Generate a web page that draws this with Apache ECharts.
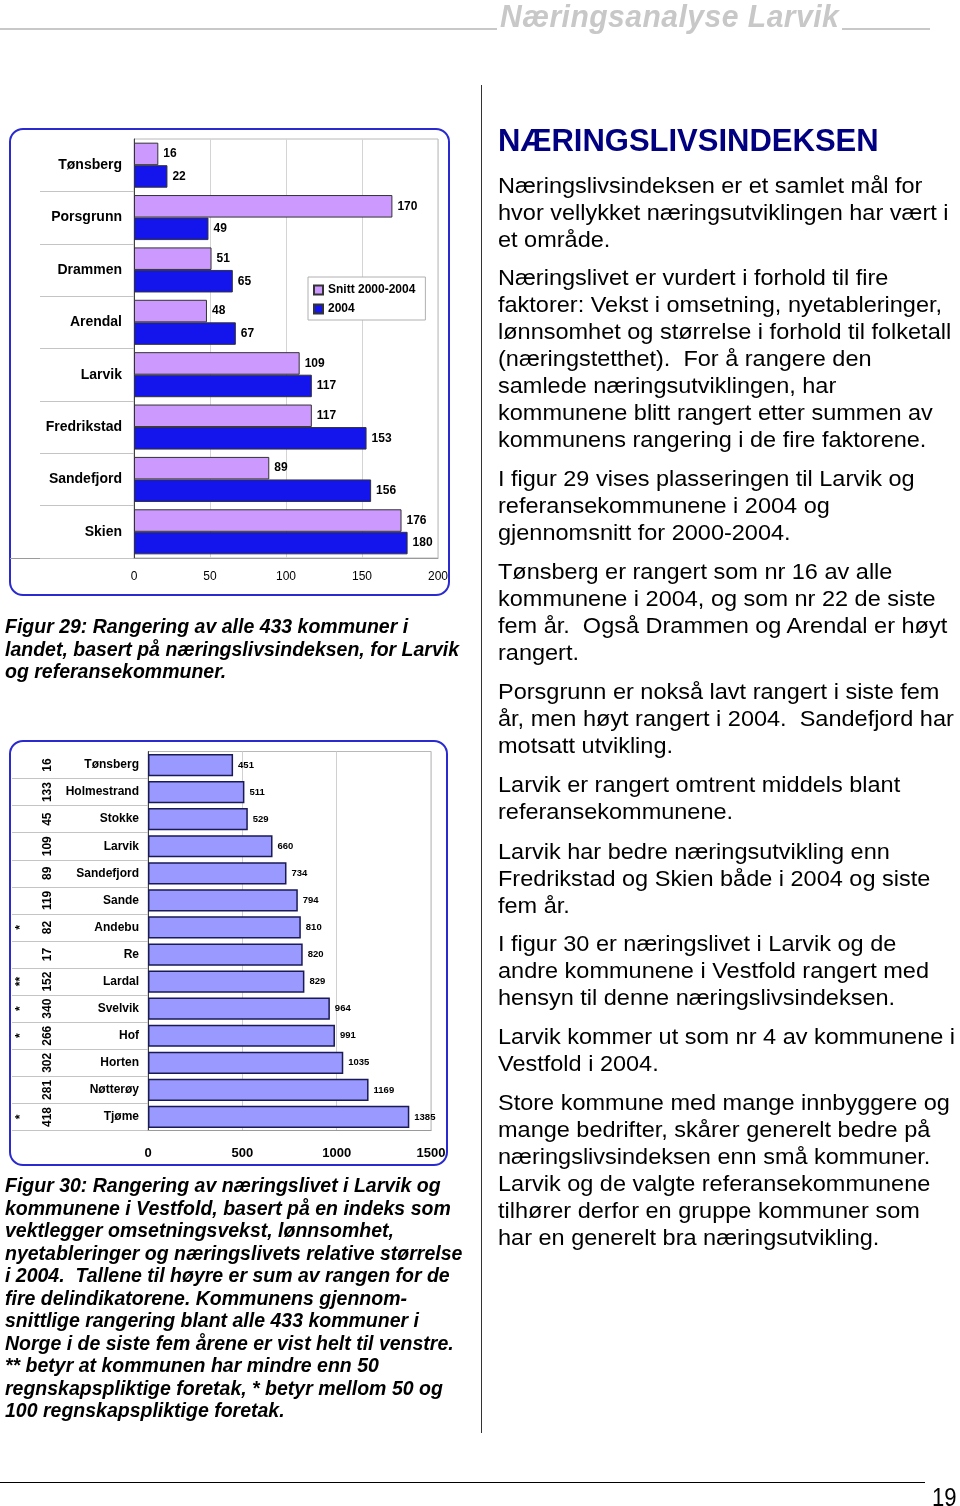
<!DOCTYPE html>
<html><head><meta charset="utf-8">
<script src="https://cdn.jsdelivr.net/npm/echarts@6/dist/echarts.min.js"></script>
<style>
html,body{margin:0;padding:0;background:#fff;}
body{width:960px;height:1506px;position:relative;overflow:hidden;font-family:"Liberation Sans",Arial,sans-serif;}
#chart{position:absolute;left:0;top:0;width:960px;height:1506px;z-index:1;}
.t{position:absolute;z-index:2;white-space:nowrap;}
.p{position:absolute;z-index:2;white-space:nowrap;left:498px;font-size:22px;line-height:27px;color:#000;transform:scaleX(1.068);transform-origin:0 0;}
.cap{position:absolute;z-index:2;white-space:nowrap;left:5px;font-size:19.5px;line-height:22.5px;font-weight:bold;font-style:italic;color:#000;}
</style></head><body>
<div id="chart"></div>

<div class="t" style="left:0;top:28px;width:497px;height:0;border-top:2px solid #c8c8c8;"></div>
<div class="t" style="left:500px;top:-2px;font-size:32px;line-height:36px;font-weight:bold;font-style:italic;color:#c8c8c8;transform:scaleX(0.94);transform-origin:0 0;letter-spacing:0.5px;">Næringsanalyse Larvik</div>
<div class="t" style="left:842px;top:28px;width:88px;height:0;border-top:2px solid #c8c8c8;"></div>

<div class="t" style="left:481px;top:85px;width:0;height:1348px;border-left:1px solid #333;"></div>

<div class="t" style="left:498px;top:122px;font-size:31px;line-height:38px;font-weight:bold;color:#000080;">NÆRINGSLIVSINDEKSEN</div>

<div class="p" style="top:172px;">Næringslivsindeksen er et samlet mål for<br>hvor vellykket næringsutviklingen har vært i<br>et område.</div>
<div class="p" style="top:264px;">Næringslivet er vurdert i forhold til fire<br>faktorer: Vekst i omsetning, nyetableringer,<br>lønnsomhet og størrelse i forhold til folketall<br>(næringstetthet).&nbsp; For å rangere den<br>samlede næringsutviklingen, har<br>kommunene blitt rangert etter summen av<br>kommunens rangering i de fire faktorene.</div>
<div class="p" style="top:465px;">I figur 29 vises plasseringen til Larvik og<br>referansekommunene i 2004 og<br>gjennomsnitt for 2000-2004.</div>
<div class="p" style="top:558px;">Tønsberg er rangert som nr 16 av alle<br>kommunene i 2004, og som nr 22 de siste<br>fem år.&nbsp; Også Drammen og Arendal er høyt<br>rangert.</div>
<div class="p" style="top:678px;">Porsgrunn er nokså lavt rangert i siste fem<br>år, men høyt rangert i 2004.&nbsp; Sandefjord har<br>motsatt utvikling.</div>
<div class="p" style="top:771px;">Larvik er rangert omtrent middels blant<br>referansekommunene.</div>
<div class="p" style="top:838px;">Larvik har bedre næringsutvikling enn<br>Fredrikstad og Skien både i 2004 og siste<br>fem år.</div>
<div class="p" style="top:930px;">I figur 30 er næringslivet i Larvik og de<br>andre kommunene i Vestfold rangert med<br>hensyn til denne næringslivsindeksen.</div>
<div class="p" style="top:1023px;">Larvik kommer ut som nr 4 av kommunene i<br>Vestfold i 2004.</div>
<div class="p" style="top:1089px;">Store kommune med mange innbyggere og<br>mange bedrifter, skårer generelt bedre på<br>næringslivsindeksen enn små kommuner.<br>Larvik og de valgte referansekommunene<br>tilhører derfor en gruppe kommuner som<br>har en generelt bra næringsutvikling.</div>

<div class="cap" style="top:615px;">Figur 29: Rangering av alle 433 kommuner i<br>landet, basert på næringslivsindeksen, for Larvik<br>og referansekommuner.</div>
<div class="cap" style="top:1174px;">Figur 30: Rangering av næringslivet i Larvik og<br>kommunene i Vestfold, basert på en indeks som<br>vektlegger omsetningsvekst, lønnsomhet,<br>nyetableringer og næringslivets relative størrelse<br>i 2004.&nbsp; Tallene til høyre er sum av rangen for de<br>fire delindikatorene. Kommunens gjennom-<br>snittlige rangering blant alle 433 kommuner i<br>Norge i de siste fem årene er vist helt til venstre.<br>** betyr at kommunen har mindre enn 50<br>regnskapspliktige foretak, * betyr mellom 50 og<br>100 regnskapspliktige foretak.</div>

<div class="t" style="left:0;top:1482px;width:925px;height:0;border-top:1px solid #000;"></div>
<div class="t" style="left:932px;top:1482px;font-size:26px;line-height:30px;color:#000;transform:scaleX(0.85);transform-origin:0 0;">19</div>

<script>
// ---------- Figure 29 data ----------
const fig29Categories = ['Tønsberg','Porsgrunn','Drammen','Arendal','Larvik','Fredrikstad','Sandefjord','Skien'];
const fig29Snitt = [16, 170, 51, 48, 109, 117, 89, 176];
const fig29Year2004 = [22, 49, 65, 67, 117, 153, 156, 180];
const fig29SeriesNames = ['Snitt 2000-2004', '2004'];
const fig29Ticks = [0, 50, 100, 150, 200];

// ---------- Figure 30 data ----------
const fig30Categories = ['Tønsberg','Holmestrand','Stokke','Larvik','Sandefjord','Sande','Andebu','Re','Lardal','Svelvik','Hof','Horten','Nøtterøy','Tjøme'];
const fig30Index = [451, 511, 529, 660, 734, 794, 810, 820, 829, 964, 991, 1035, 1169, 1385];
const fig30AvgRank = [16, 133, 45, 109, 89, 119, 82, 17, 152, 340, 266, 302, 281, 418];
const fig30Stars = ['', '', '', '', '', '', '*', '', '**', '*', '*', '', '', '*'];
const fig30Ticks = [0, 500, 1000, 1500];

const FONT = '"Liberation Sans", Arial, sans-serif';
const chart = echarts.init(document.getElementById('chart'), null, {renderer: 'canvas'});

const G1 = {left: 134, top: 139, width: 304, height: 419};
const G2 = {left: 148, top: 751.5, width: 283, height: 379};

const option = {
  animation: false,
  textStyle: {fontFamily: FONT},
  grid: [
    {left: G1.left, top: G1.top, width: G1.width, height: G1.height, show: true, borderColor: '#b8b8b8', borderWidth: 1, backgroundColor: 'transparent'},
    {left: 40, top: G1.top, width: G1.left - 40, height: G1.height},
    {left: G2.left, top: G2.top, width: G2.width, height: G2.height, show: true, borderColor: '#b8b8b8', borderWidth: 1, backgroundColor: 'transparent'},
    {left: 12, top: G2.top, width: G2.left - 12, height: G2.height}
  ],
  legend: {
    data: fig29SeriesNames,
    orient: 'vertical',
    left: 308, top: 277,
    itemWidth: 9, itemHeight: 9, itemGap: 7,
    padding: [7, 10, 5, 5],
    backgroundColor: '#fff',
    borderColor: '#b0b0b0', borderWidth: 1,
    textStyle: {fontFamily: FONT, fontSize: 12, fontWeight: 'bold', color: '#000'},
    icon: 'rect'
  },
  xAxis: [
    {gridIndex: 0, type: 'value', min: fig29Ticks[0], max: fig29Ticks[fig29Ticks.length - 1], interval: fig29Ticks[1] - fig29Ticks[0],
     axisLine: {show: true, lineStyle: {color: '#9a9a9a'}}, axisTick: {show: false},
     axisLabel: {fontFamily: FONT, fontSize: 12, color: '#000', margin: 13, formatter: (v) => String(v)},
     splitLine: {show: true, lineStyle: {color: '#d4d4d4'}}},
    {gridIndex: 1, type: 'value', show: false},
    {gridIndex: 2, type: 'value', min: fig30Ticks[0], max: fig30Ticks[fig30Ticks.length - 1], interval: fig30Ticks[1] - fig30Ticks[0],
     axisLine: {show: true, lineStyle: {color: '#9a9a9a'}}, axisTick: {show: false},
     axisLabel: {fontFamily: FONT, fontSize: 13, fontWeight: 'bold', color: '#000', margin: 16, formatter: (v) => String(v)},
     splitLine: {show: true, lineStyle: {color: '#d0d0d0'}}},
    {gridIndex: 3, type: 'value', show: false}
  ],
  yAxis: [
    {gridIndex: 0, type: 'category', data: fig29Categories, inverse: true,
     axisLine: {show: true, lineStyle: {color: '#404040'}}, axisTick: {show: false},
     axisLabel: {fontFamily: FONT, fontSize: 14, fontWeight: 'bold', color: '#000', margin: 12, interval: 0}},
    {gridIndex: 1, type: 'category', data: fig29Categories, inverse: true,
     axisLine: {show: false}, axisTick: {show: false}, axisLabel: {show: false},
     splitLine: {show: true, interval: (i) => i > 0, lineStyle: {color: '#c4c4c4'}}},
    {gridIndex: 2, type: 'category', data: fig30Categories, inverse: true,
     axisLine: {show: true, lineStyle: {color: '#404040'}}, axisTick: {show: false},
     axisLabel: {fontFamily: FONT, fontSize: 12, fontWeight: 'bold', color: '#000', margin: 9, interval: 0}},
    {gridIndex: 2, type: 'category', data: fig30Categories, inverse: true, position: 'left', offset: 86,
     axisLine: {show: false}, axisTick: {show: false},
     axisLabel: {fontFamily: FONT, fontSize: 12, fontWeight: 'bold', color: '#000', margin: 8, interval: 0, rotate: 90,
                 formatter: (v, i) => String(fig30AvgRank[i])}},
    {gridIndex: 2, type: 'category', data: fig30Categories, inverse: true, position: 'left', offset: 113,
     axisLine: {show: false}, axisTick: {show: false},
     axisLabel: {fontFamily: FONT, fontSize: 12, fontWeight: 'bold', color: '#000', margin: 8, interval: 0, rotate: 90,
                 formatter: (v, i) => fig30Stars[i]}},
    {gridIndex: 3, type: 'category', data: fig30Categories, inverse: true,
     axisLine: {show: false}, axisTick: {show: false}, axisLabel: {show: false},
     splitLine: {show: true, interval: (i) => i > 0, lineStyle: {color: '#c4c4c4'}}}
  ],
  series: [
    {name: fig29SeriesNames[0], type: 'bar', xAxisIndex: 0, yAxisIndex: 0, data: fig29Snitt,
     barGap: '0%', barCategoryGap: '14%',
     itemStyle: {color: '#cc99ff', borderColor: '#333', borderWidth: 1},
     label: {show: true, position: 'right', distance: 5, fontFamily: FONT, fontSize: 12, fontWeight: 'bold', color: '#000'}},
    {name: fig29SeriesNames[1], type: 'bar', xAxisIndex: 0, yAxisIndex: 0, data: fig29Year2004,
     barGap: '0%', barCategoryGap: '14%',
     itemStyle: {color: '#1414ec', borderColor: '#333', borderWidth: 1},
     label: {show: true, position: 'right', distance: 5, fontFamily: FONT, fontSize: 12, fontWeight: 'bold', color: '#000'}},
    {name: 'Indeks', type: 'bar', xAxisIndex: 2, yAxisIndex: 2, data: fig30Index,
     barCategoryGap: '18%',
     itemStyle: {color: '#9999ff', borderColor: '#1a1a55', borderWidth: 1.5},
     label: {show: true, position: 'right', distance: 5, fontFamily: FONT, fontSize: 9.5, fontWeight: 'bold', color: '#000'}}
  ],
  graphic: [
    {type: 'rect', shape: {x: 10, y: 129, width: 439, height: 466, r: 13}, style: {fill: 'none', stroke: '#2a2ad0', lineWidth: 2}, z: 0},
    {type: 'rect', shape: {x: 10, y: 741, width: 437, height: 424, r: 13}, style: {fill: 'none', stroke: '#2a2ad0', lineWidth: 2}, z: 0},
    {type: 'line', shape: {x1: 10, y1: G1.top + G1.height + 0.5, x2: G1.left, y2: G1.top + G1.height + 0.5}, style: {stroke: '#9a9a9a', lineWidth: 1}, z: 0}
  ]
};
chart.setOption(option);
</script>
</body></html>
